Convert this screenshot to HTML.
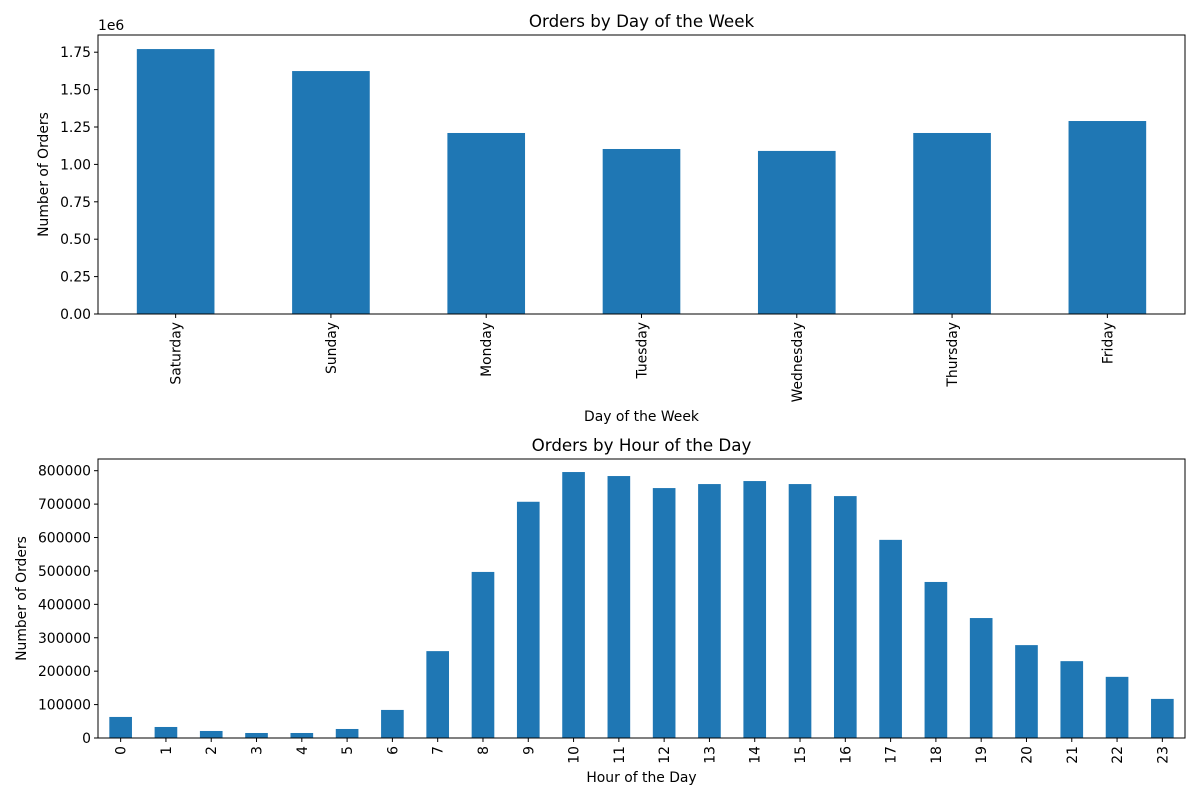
<!DOCTYPE html>
<html><head><meta charset="utf-8">
<style>
html,body{margin:0;padding:0;background:#fff;}
svg{display:block;font-family:"DejaVu Sans","Liberation Sans",sans-serif;}
</style></head>
<body>
<svg id="chart" width="1200" height="800" viewBox="0 0 1200 800"></svg>
<script>
const dayCategories = ["Saturday","Sunday","Monday","Tuesday","Wednesday","Thursday","Friday"];
const dayValues = [1771000,1624000,1210000,1103000,1090000,1210000,1290000];
const dayTicks = [0,0.25,0.5,0.75,1.0,1.25,1.5,1.75];
const dayTickLabels = ["0.00","0.25","0.50","0.75","1.00","1.25","1.50","1.75"];
const hourCategories = ["0","1","2","3","4","5","6","7","8","9","10","11","12","13","14","15","16","17","18","19","20","21","22","23"];
const hourValues = [63000,33000,21000,15000,15000,27000,84000,260000,497000,707000,796000,784000,748000,760000,769000,760000,724000,593000,467000,359000,278000,230000,183000,117000];
const hourTicks = [0,100000,200000,300000,400000,500000,600000,700000,800000];

const NS="http://www.w3.org/2000/svg";
const svg=document.getElementById('chart');
function mk(tag,attrs,parent,text){const e=document.createElementNS(NS,tag);for(const k in attrs)e.setAttribute(k,attrs[k]);if(text!==undefined)e.textContent=text;(parent||svg).appendChild(e);return e;}

function drawPanel(o){
  const g=mk('g',{});
  
  
  const L=o.left,R=o.right,T=o.top,B=o.bottom;
  const y=v=>B-(v/o.ymax)*(B-T);
  const step=(R-L)/o.cats.length;
  o.cats.forEach((c,i)=>{
    const cx=L+step*(i+0.5),bw=step*0.5;
    const r=mk('rect',{x:cx-bw/2,y:y(o.vals[i]),width:bw,height:B-y(o.vals[i]),fill:'#1f77b4'},g);
    
    
    mk('line',{x1:cx,x2:cx,y1:B,y2:B+4,stroke:'#000','stroke-width':1},g);
    const t=mk('text',{x:0,y:0,'font-size':13.9,'text-anchor':'end',transform:`translate(${cx+5},${B+8}) rotate(-90)`},g,c);
    
    
  });
  o.ticks.forEach((tv,i)=>{
    const yy=y(tv*o.tickScale);
    mk('line',{x1:L-4,x2:L,y1:yy,y2:yy,stroke:'#000','stroke-width':1},g);
    const t=mk('text',{x:L-7,y:yy+5,'font-size':13.9,'text-anchor':'end'},g,o.tickLabels?o.tickLabels[i]:String(tv));
    
    
  });
  mk('rect',{x:L,y:T,width:R-L,height:B-T,fill:'none',stroke:'#000','stroke-width':1},g);
  const ti=mk('text',{x:(L+R)/2,y:T-8,'font-size':16.7,'text-anchor':'middle'},g,o.title);
  
  
  const xl=mk('text',{x:(L+R)/2,y:o.xlabelY,'font-size':13.9,'text-anchor':'middle'},g,o.xlabel);
  
  
  const yl=mk('text',{x:0,y:0,'font-size':13.9,'text-anchor':'middle',transform:`translate(${o.ylabelX},${(T+B)/2}) rotate(-90)`},g,'Number of Orders');
  
  
  if(o.offset){
    const of=mk('text',{x:L,y:T-5,'font-size':13.9},g,o.offset);
    
    
  }
}

drawPanel({name:'day-of-week-chart',left:98,right:1185,top:35,bottom:314,ymax:1865000,
  cats:dayCategories,vals:dayValues,ticks:dayTicks,tickLabels:dayTickLabels,tickScale:1e6,
  title:'Orders by Day of the Week',xlabel:'Day of the Week',xlabelY:421,ylabelX:48,offset:'1e6'});
drawPanel({name:'hour-of-day-chart',left:98,right:1185,top:459,bottom:738,ymax:835000,
  cats:hourCategories,vals:hourValues,ticks:hourTicks,tickScale:1,
  title:'Orders by Hour of the Day',xlabel:'Hour of the Day',xlabelY:782,ylabelX:26});
</script>
</body></html>
